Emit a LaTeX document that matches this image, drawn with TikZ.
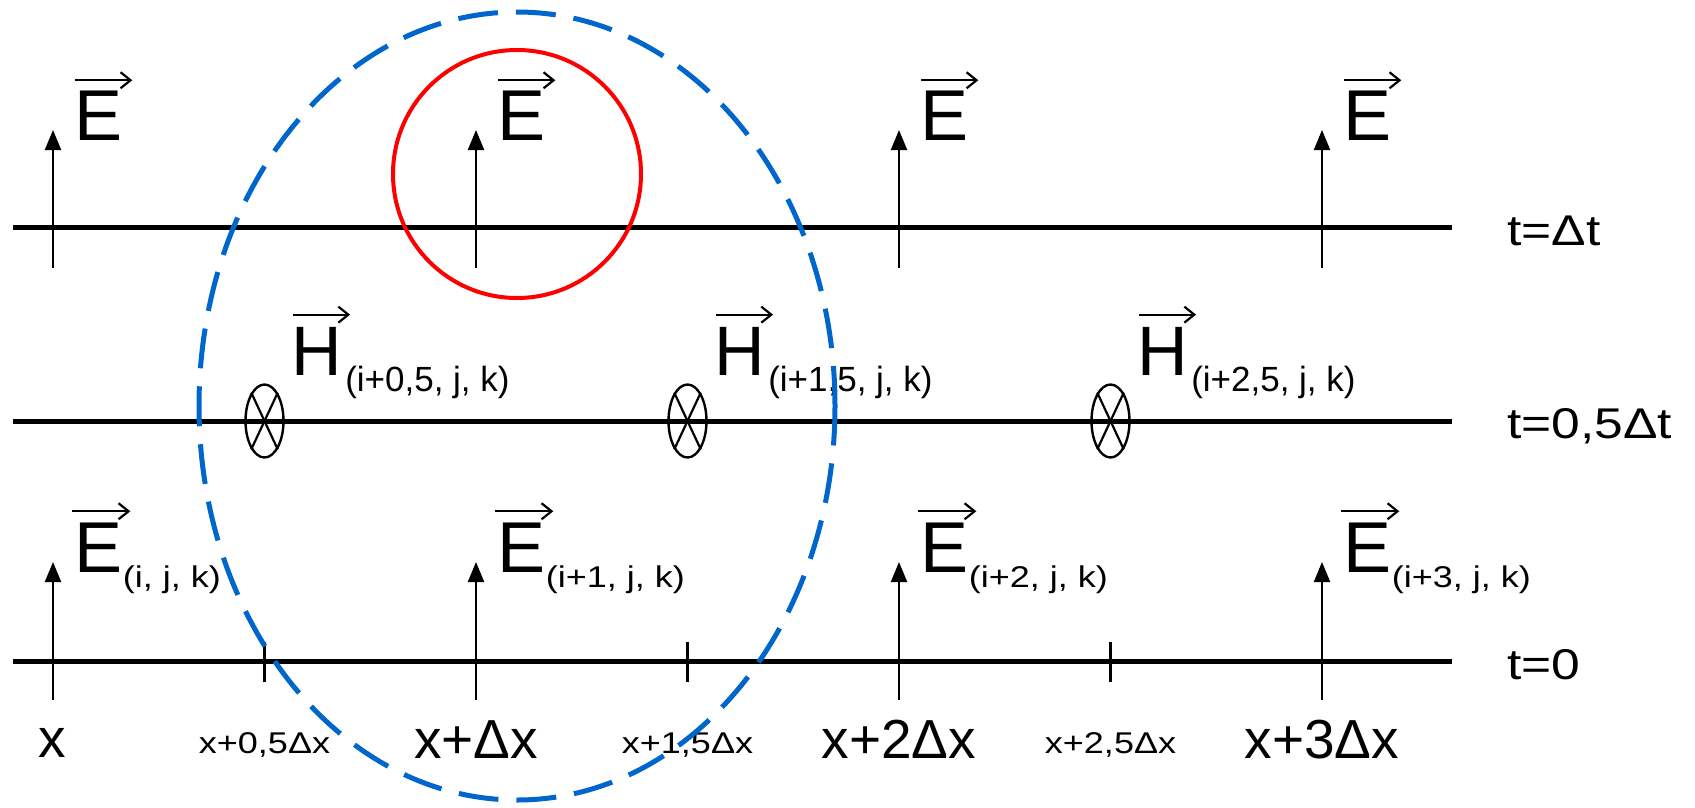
\documentclass[tikz,border=0pt]{standalone}
\usepackage{fontspec}
\setmainfont{Liberation Sans}
\newfontfamily\wf[FakeStretch=1.2]{Liberation Sans}
\usetikzlibrary{arrows.meta,shapes.geometric,calc}
\definecolor{ellblue}{RGB}{0,102,204}
\begin{document}
\begin{tikzpicture}[x=1pt,y=-1pt,
  axis/.style={line width=5pt},
  earrow/.style={line width=2.2pt,-{Triangle[length=20pt,width=16pt]}},
  tickmark/.style={line width=2.2pt},
  vecbar/.style={line width=2.2pt,-{Straight Barb[length=10pt,width=16pt,line width=2.2pt]}},
  bigE/.style={inner sep=0pt,anchor=base west,font=\fontsize{72}{72}\selectfont},
  bigH/.style={inner sep=0pt,anchor=base west,font=\fontsize{70}{70}\selectfont},
  subE/.style={inner sep=0pt,anchor=base west,font=\wf\fontsize{30}{30}\selectfont},
  subH/.style={inner sep=0pt,anchor=base west,font=\fontsize{35}{35}\selectfont},
  xbig/.style={inner sep=0pt,anchor=base,font=\fontsize{55}{55}\selectfont},
  xsmall/.style={inner sep=0pt,anchor=base,font=\wf\fontsize{30}{30}\selectfont},
  tlab/.style={inner sep=0pt,anchor=base west,font=\wf\fontsize{43}{43}\selectfont},
  hsym/.style={ellipse,draw,line width=2.4pt,minimum width=38pt,minimum height=73pt,inner sep=0pt},
  hcross/.style={line width=2.2pt},
  redring/.style={draw=red,line width=4pt},
  blueoval/.style={draw=ellblue,line width=5pt,dash pattern=on 40pt off 18pt}]
\useasboundingbox (0,0) rectangle (1695,807);

% time lines
\coordinate (L1a) at (13,227);  \coordinate (L1b) at (1452,227);
\coordinate (L2a) at (13,421);  \coordinate (L2b) at (1452,421);
\coordinate (L3a) at (13,661);  \coordinate (L3b) at (1452,661);
\draw[axis] (L1a) -- (L1b);
\draw[axis] (L2a) -- (L2b);
\draw[axis] (L3a) -- (L3b);

% E arrows
\foreach \i in {0,1,2,3}{
  \coordinate (Tb\i) at (53+423*\i,268);
  \coordinate (Tt\i) at (53+423*\i,130);
  \draw[earrow] (Tb\i) -- (Tt\i);
  \coordinate (Bb\i) at (53+423*\i,700);
  \coordinate (Bt\i) at (53+423*\i,562);
  \draw[earrow] (Bb\i) -- (Bt\i);
  % top E labels
  \node[bigE] (Et\i) at (53+423*\i+21.3,140) {E};
  \draw[vecbar] ($(Et\i.north west)+(1,-10)$) -- ($(Et\i.north west)+(58,-10)$);
  % bottom E labels
  \node[bigE] (Eb\i) at (53+423*\i+21.3,572) {E};
  \draw[vecbar] ($(Eb\i.north west)+(-2,-11)$) -- ($(Eb\i.north west)+(56,-11)$);
}
\node[subE] (Es0) at ($(Eb0.base east)+(0,15)$) {(i, j, k)};
\node[subE] (Es1) at ($(Eb1.base east)+(0,15)$) {(i+1, j, k)};
\node[subE] (Es2) at ($(Eb2.base east)+(0,15)$) {(i+2, j, k)};
\node[subE] (Es3) at ($(Eb3.base east)+(0,15)$) {(i+3, j, k)};

% ticks at half steps on t=0
\foreach \i in {0,1,2}{
  \coordinate (Ka\i) at (264.5+423*\i,642);
  \coordinate (Kb\i) at (264.5+423*\i,682);
  \draw[tickmark] (Ka\i) -- (Kb\i);
  % H symbols
  \node[hsym] (H\i) at (264.5+423*\i,421) {};
  \draw[hcross] (H\i.115) -- (H\i.-65);
  \draw[hcross] (H\i.65) -- (H\i.-115);
  \node[bigH] (Hl\i) at (264.5+423*\i+27.1,375) {H};
  \draw[vecbar] ($(Hl\i.north west)+(1.5,-12)$) -- ($(Hl\i.north west)+(58.5,-12)$);
}
\node[subH] (Hs0) at ($(Hl0.base east)+(2.5,16)$) {(i+0,5, j, k)};
\node[subH] (Hs1) at ($(Hl1.base east)+(2.5,16)$) {(i+1,5, j, k)};
\node[subH] (Hs2) at ($(Hl2.base east)+(2.5,16)$) {(i+2,5, j, k)};

% x labels
\node[xbig] (X0) at (52,757) {x};
\node[xbig] (X1) at (476,758) {x+Δx};
\node[xbig] (X2) at (899,758) {x+2Δx};
\node[xbig] (X3) at (1322,758) {x+3Δx};
\node[xsmall] (Y0) at (264.5,753) {x+0,5Δx};
\node[xsmall] (Y1) at (687.5,753) {x+1,5Δx};
\node[xsmall] (Y2) at (1110.5,753) {x+2,5Δx};

% time labels
\node[tlab] (T1) at (1507,245) {t=Δt};
\node[tlab] (T2) at (1507,438) {t=0,5Δt};
\node[tlab] (T3) at (1507,679) {t=0};

% highlight circles
\draw[redring] (517,174) circle[radius=124pt];
\draw[blueoval] (517,406) ellipse[x radius=318pt,y radius=394pt];
\end{tikzpicture}
\end{document}
